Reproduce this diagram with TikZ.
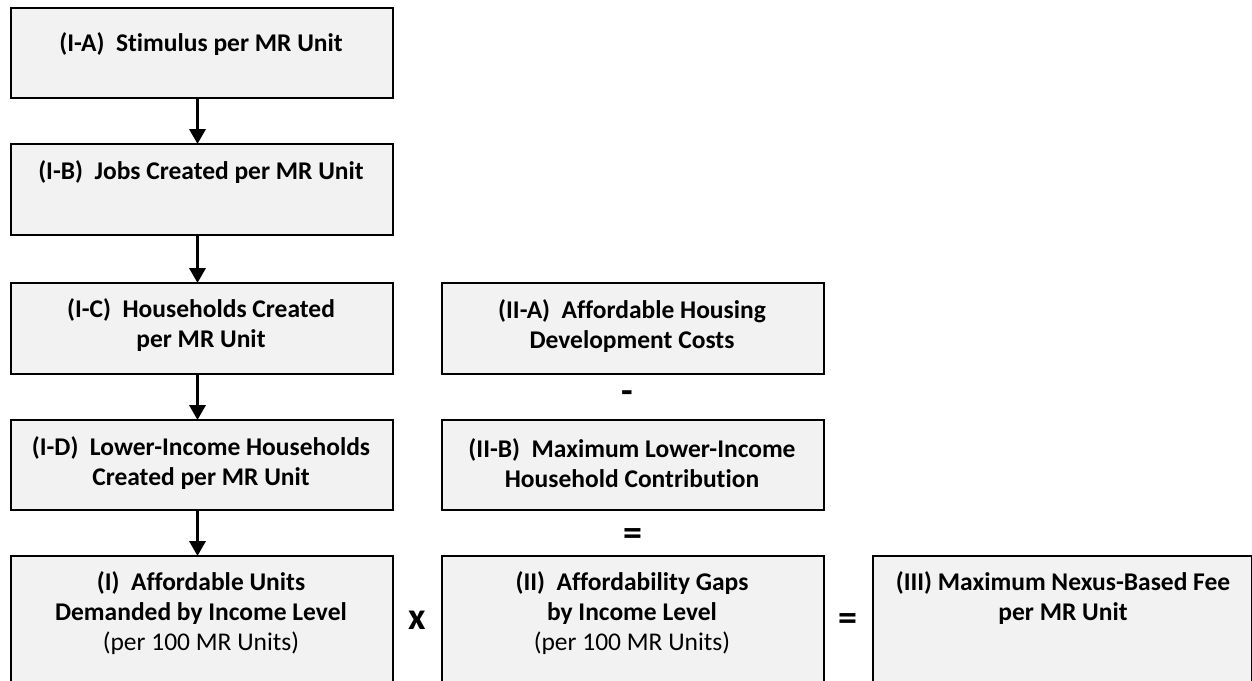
\documentclass[tikz,border=0pt]{standalone}
\usepackage{fontspec}
\setmainfont{Carlito}[Ligatures=CommonOff]
\usetikzlibrary{arrows.meta}
\definecolor{boxfill}{HTML}{F2F2F2}
\tikzset{
  boxshape/.style={draw=black, line width=2pt, fill=boxfill},
  boxtext/.style={align=center, inner sep=0pt, font=\fontsize{25.5}{30}\selectfont\bfseries},
  optext/.style={inner sep=0pt, font=\fontsize{38}{38}\selectfont\bfseries},
  flowarrow/.style={line width=3.5pt, -{Triangle[width=16pt,length=15pt]}, shorten >=-1pt}
}
\begin{document}
\begin{tikzpicture}[x=1pt,y=-1pt]
\useasboundingbox (0,0) rectangle (1252,680);
% boxes
\node[boxshape, minimum width=382pt, minimum height=90pt, anchor=north west] (IA) at (10,7) {};
\node[boxshape, minimum width=382pt, minimum height=91pt, anchor=north west] (IB) at (10,143) {};
\node[boxshape, minimum width=382pt, minimum height=91pt, anchor=north west] (IC) at (10,282) {};
\node[boxshape, minimum width=382pt, minimum height=90pt, anchor=north west] (ID) at (10,419) {};
\node[boxshape, minimum width=382pt, minimum height=145pt, anchor=north west] (I) at (10,555) {};
\node[boxshape, minimum width=382pt, minimum height=91pt, anchor=north west] (IIA) at (441,282) {};
\node[boxshape, minimum width=382pt, minimum height=90pt, anchor=north west] (IIB) at (441,419) {};
\node[boxshape, minimum width=382pt, minimum height=145pt, anchor=north west] (II) at (441,555) {};
\node[boxshape, minimum width=379pt, minimum height=145pt, anchor=north west] (III) at (872,555) {};
% texts
\node[boxtext] (tIA) at (201,44) {(I-A)\ \ Stimulus per MR Unit};
\node[boxtext] (tIB) at (201,172) {(I-B)\ \ Jobs Created per MR Unit};
\node[boxtext] (tIC) at (201,325) {(I-C)\ \ Households Created\\per MR Unit};
\node[boxtext] (tID) at (201,463) {(I-D)\ \ Lower-Income Households\\Created per MR Unit};
\node[boxtext] (tI) at (201,613) {(I)\ \ Affordable Units\\Demanded by Income Level\\{\mdseries (per 100 MR Units)}};
\node[boxtext] (tIIA) at (632,326) {(II-A)\ \ Affordable Housing\\Development Costs};
\node[boxtext] (tIIB) at (632,463) {(II-B)\ \ Maximum Lower-Income\\Household Contribution};
\node[boxtext] (tII) at (632,613) {(II)\ \ Affordability Gaps\\by Income Level\\{\mdseries (per 100 MR Units)}};
\node[boxtext] (tIII) at (1063,598) {(III) Maximum Nexus-Based Fee\\per MR Unit};
% operators
\node[optext] (minus) at (627,397) {-};
\node[optext] (eq1) at (633,537) {=};
\node[optext] (times) at (417,620) {x};
\node[optext] (eq2) at (848,622) {=};
% arrows
\draw[flowarrow] ([xshift=-4.5pt]IA.south) -- ([xshift=-4.5pt]IB.north);
\draw[flowarrow] ([xshift=-4.5pt]IB.south) -- ([xshift=-4.5pt]IC.north);
\draw[flowarrow] ([xshift=-4.5pt]IC.south) -- ([xshift=-4.5pt]ID.north);
\draw[flowarrow] ([xshift=-4.5pt]ID.south) -- ([xshift=-4.5pt]I.north);
\end{tikzpicture}
\end{document}
